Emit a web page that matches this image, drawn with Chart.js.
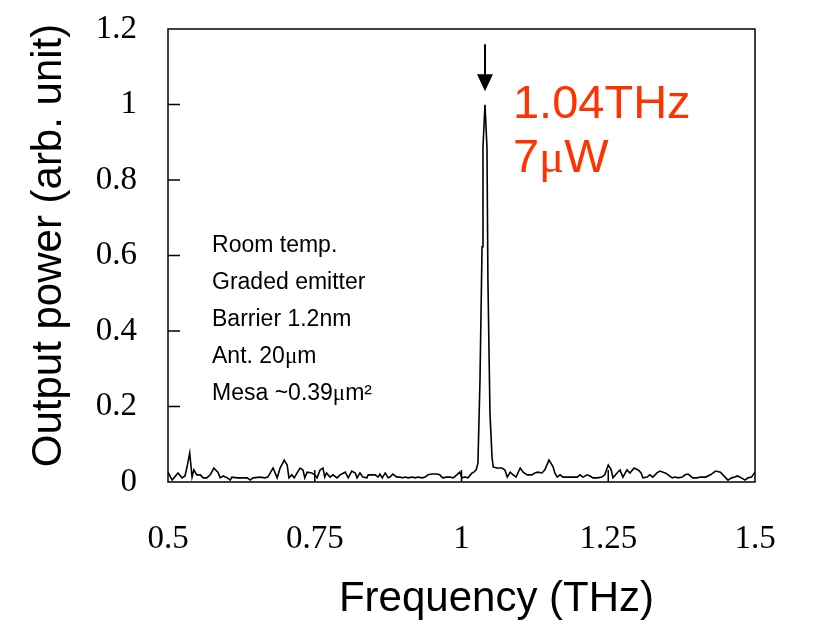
<!DOCTYPE html>
<html>
<head>
<meta charset="utf-8">
<script src="https://cdn.jsdelivr.net/npm/chart.js@4.4.1/dist/chart.umd.min.js"></script>
<style>
  html, body { margin: 0; padding: 0; background: #fff; }
  canvas { display: block; }
</style>
</head>
<body>
<canvas id="spectrumChart" width="823" height="624"></canvas>
<script>
// spectrum (THz, arb. unit)
const freq = [
  0.500, 0.507, 0.517, 0.524, 0.529, 0.532, 0.537, 0.541, 0.544, 0.549,
  0.555, 0.560, 0.566, 0.572, 0.578, 0.585, 0.589, 0.594, 0.601, 0.606,
  0.609, 0.618, 0.623, 0.628, 0.635, 0.640, 0.645, 0.657, 0.665, 0.670,
  0.679, 0.686, 0.691, 0.698, 0.703, 0.706, 0.711, 0.715, 0.720, 0.725,
  0.730, 0.733, 0.737, 0.745, 0.750, 0.754, 0.759, 0.764, 0.767, 0.770,
  0.776, 0.781, 0.788, 0.793, 0.802, 0.807, 0.813, 0.819, 0.822, 0.827,
  0.832, 0.839, 0.841, 0.848, 0.853, 0.858, 0.861, 0.865, 0.870, 0.875,
  0.878, 0.883, 0.890, 0.895, 0.899, 0.904, 0.909, 0.916, 0.921, 0.926,
  0.933, 0.938, 0.943, 0.950, 0.958, 0.963, 0.968, 0.975, 0.980, 0.986,
  0.992, 0.997, 1.001, 1.006, 1.011, 1.018, 1.021, 1.025,
  1.028, 1.0315, 1.035, 1.0366, 1.040, 1.0434, 1.045, 1.0485, 1.052,
  1.054, 1.060, 1.069, 1.074, 1.078, 1.083, 1.088, 1.093, 1.100, 1.105,
  1.112, 1.120, 1.125, 1.130, 1.137, 1.142, 1.149, 1.156, 1.159, 1.163,
  1.168, 1.173, 1.185, 1.197, 1.202, 1.207, 1.214, 1.219, 1.224,
  1.231, 1.239, 1.244, 1.250, 1.255, 1.258, 1.265, 1.270, 1.275, 1.282,
  1.287, 1.294, 1.301, 1.306, 1.309, 1.316, 1.321, 1.326, 1.333, 1.338,
  1.347, 1.352, 1.359, 1.364, 1.369, 1.376, 1.381, 1.386, 1.394, 1.401,
  1.407, 1.416, 1.424, 1.433, 1.441, 1.449, 1.454, 1.460, 1.466, 1.470,
  1.477, 1.483, 1.488, 1.494, 1.500
];
const power = [
  0.026, 0.005, 0.024, 0.011, 0.016, 0.037, 0.077, 0.013, 0.032, 0.019,
  0.019, 0.011, 0.011, 0.019, 0.037, 0.026, 0.011, 0.016, 0.011, 0.005,
  0.013, 0.011, 0.011, 0.011, 0.011, 0.005, 0.011, 0.013, 0.011, 0.013,
  0.037, 0.011, 0.037, 0.058, 0.045, 0.011, 0.019, 0.011, 0.024, 0.037,
  0.032, 0.011, 0.026, 0.024, 0.019, 0.011, 0.032, 0.037, 0.013, 0.024,
  0.013, 0.019, 0.011, 0.019, 0.026, 0.011, 0.029, 0.024, 0.011, 0.024,
  0.013, 0.011, 0.019, 0.019, 0.019, 0.013, 0.021, 0.011, 0.024, 0.011,
  0.013, 0.021, 0.013, 0.013, 0.011, 0.013, 0.011, 0.013, 0.011, 0.013,
  0.011, 0.013, 0.019, 0.021, 0.021, 0.019, 0.011, 0.013, 0.013, 0.011,
  0.019, 0.026, 0.011, 0.013, 0.011, 0.024, 0.026, 0.032,
  0.050, 0.270, 0.623, 0.887, 0.999, 0.887, 0.535, 0.183, 0.066,
  0.040, 0.037, 0.037, 0.032, 0.013, 0.026, 0.019, 0.013, 0.037, 0.026,
  0.019, 0.019, 0.024, 0.026, 0.024, 0.032, 0.058, 0.040, 0.024, 0.013,
  0.019, 0.013, 0.013, 0.013, 0.019, 0.013, 0.019, 0.016, 0.011,
  0.011, 0.013, 0.019, 0.045, 0.032, 0.011, 0.024, 0.032, 0.013, 0.032,
  0.024, 0.037, 0.032, 0.024, 0.011, 0.013, 0.019, 0.013, 0.024, 0.029,
  0.024, 0.019, 0.011, 0.013, 0.011, 0.013, 0.019, 0.021, 0.011, 0.011,
  0.013, 0.013, 0.019, 0.029, 0.026, 0.013, 0.005, 0.011, 0.013, 0.016,
  0.011, 0.005, 0.011, 0.013, 0.026
];
const xTicks = [0.5, 0.75, 1, 1.25, 1.5];
const yTicks = [0, 0.2, 0.4, 0.6, 0.8, 1, 1.2];
const xTitle = "Frequency (THz)";
const yTitle = "Output power (arb. unit)";
const notes = ["Room temp.", "Graded emitter", "Barrier 1.2nm", "Ant. 20μm", "Mesa ~0.39μm²"];
const peakLabel = ["1.04THz", "7μW"];
const peakFreq = 1.04;

const SANS = '"Liberation Sans", Arial, sans-serif';
const SERIF = '"Liberation Serif", "Times New Roman", serif';

// text with the μ drawn in a serif face, like the original
function drawMixed(ctx, text, x, y, size) {
  const parts = text.split(/(μ)/);
  let cx = x;
  parts.forEach(p => {
    if (!p) return;
    ctx.font = (p === "μ" ? size + "px " + SERIF : size + "px " + SANS);
    ctx.fillText(p, cx, y);
    cx += ctx.measureText(p).width;
  });
}

const extras = {
  id: "extras",
  afterDraw(chart) {
    const { ctx, chartArea: a, scales } = chart;
    const sx = scales.x, sy = scales.y;
    ctx.save();

    // frame and inward ticks
    ctx.strokeStyle = "#000";
    ctx.lineWidth = 1.5;
    ctx.strokeRect(a.left, a.top, a.right - a.left, a.bottom - a.top);
    ctx.beginPath();
    xTicks.slice(1, -1).forEach(v => {
      const px = sx.getPixelForValue(v);
      ctx.moveTo(px, a.bottom);
      ctx.lineTo(px, a.bottom - 12);
    });
    yTicks.slice(1, -1).forEach(v => {
      const py = sy.getPixelForValue(v);
      ctx.moveTo(a.left, py);
      ctx.lineTo(a.left + 12, py);
    });
    ctx.stroke();

    // axis titles
    ctx.fillStyle = "#000";
    ctx.textAlign = "center";
    ctx.textBaseline = "middle";
    ctx.font = "42px " + SANS;
    ctx.fillText(xTitle, (a.left + a.right) / 2 + 35, 599);
    ctx.save();
    ctx.translate(49, (a.top + a.bottom) / 2 - 10);
    ctx.rotate(-Math.PI / 2);
    ctx.fillText(yTitle, 0, 0);
    ctx.restore();

    // arrow over the peak
    const ax = sx.getPixelForValue(peakFreq);
    const tip = sy.getPixelForValue(1.035);
    ctx.beginPath();
    ctx.lineWidth = 2;
    ctx.moveTo(ax, tip - 47);
    ctx.lineTo(ax, tip - 15);
    ctx.stroke();
    ctx.beginPath();
    ctx.moveTo(ax - 8, tip - 17);
    ctx.lineTo(ax + 8, tip - 17);
    ctx.lineTo(ax, tip);
    ctx.closePath();
    ctx.fill();

    // peak label
    ctx.textAlign = "left";
    ctx.textBaseline = "alphabetic";
    ctx.fillStyle = "#ff3300";
    const lx = sx.getPixelForValue(1.0877);
    drawMixed(ctx, peakLabel[0], lx, a.top + 89, 47);
    drawMixed(ctx, peakLabel[1], lx, a.top + 143, 47);

    // conditions
    ctx.fillStyle = "#000";
    const nx = sx.getPixelForValue(0.575);
    notes.forEach((t, i) => drawMixed(ctx, t, nx, a.top + 223 + i * 37, 23));
    ctx.restore();
  }
};

new Chart(document.getElementById("spectrumChart").getContext("2d"), {
  type: "line",
  data: {
    datasets: [
      {
        data: freq.map((f, i) => ({ x: f, y: power[i] })),
        borderColor: "#000",
        borderWidth: 1.6,
        pointRadius: 0,
        tension: 0,
        fill: false,
      },
    ],
  },
  options: {
    responsive: false,
    animation: false,
    layout: { padding: { top: 29, right: 68, left: 0, bottom: 0 } },
    plugins: {
      legend: { display: false },
      tooltip: { enabled: false },
    },
    scales: {
      x: {
        type: "linear",
        min: 0.5,
        max: 1.5,
        afterBuildTicks: s => { s.ticks = xTicks.map(v => ({ value: v })); },
        afterFit: s => { s.height = 142; s.paddingLeft = 0; s.paddingRight = 0; },
        grid: { display: false, drawTicks: false },
        border: { display: false },
        ticks: {
          padding: 38,
          color: "#000",
          font: { family: SERIF, size: 33 },
          callback: v => String(+v.toFixed(2)),
        },
      },
      y: {
        min: 0,
        max: 1.2,
        afterBuildTicks: s => { s.ticks = yTicks.map(v => ({ value: v })); },
        afterFit: s => { s.width = 168; s.paddingTop = 0; s.paddingBottom = 0; },
        grid: { display: false, drawTicks: false },
        border: { display: false },
        ticks: {
          padding: 31,
          color: "#000",
          font: { family: SERIF, size: 33 },
          callback: v => String(+v.toFixed(2)),
        },
      },
    },
  },
  plugins: [extras],
});
</script>
</body>
</html>
